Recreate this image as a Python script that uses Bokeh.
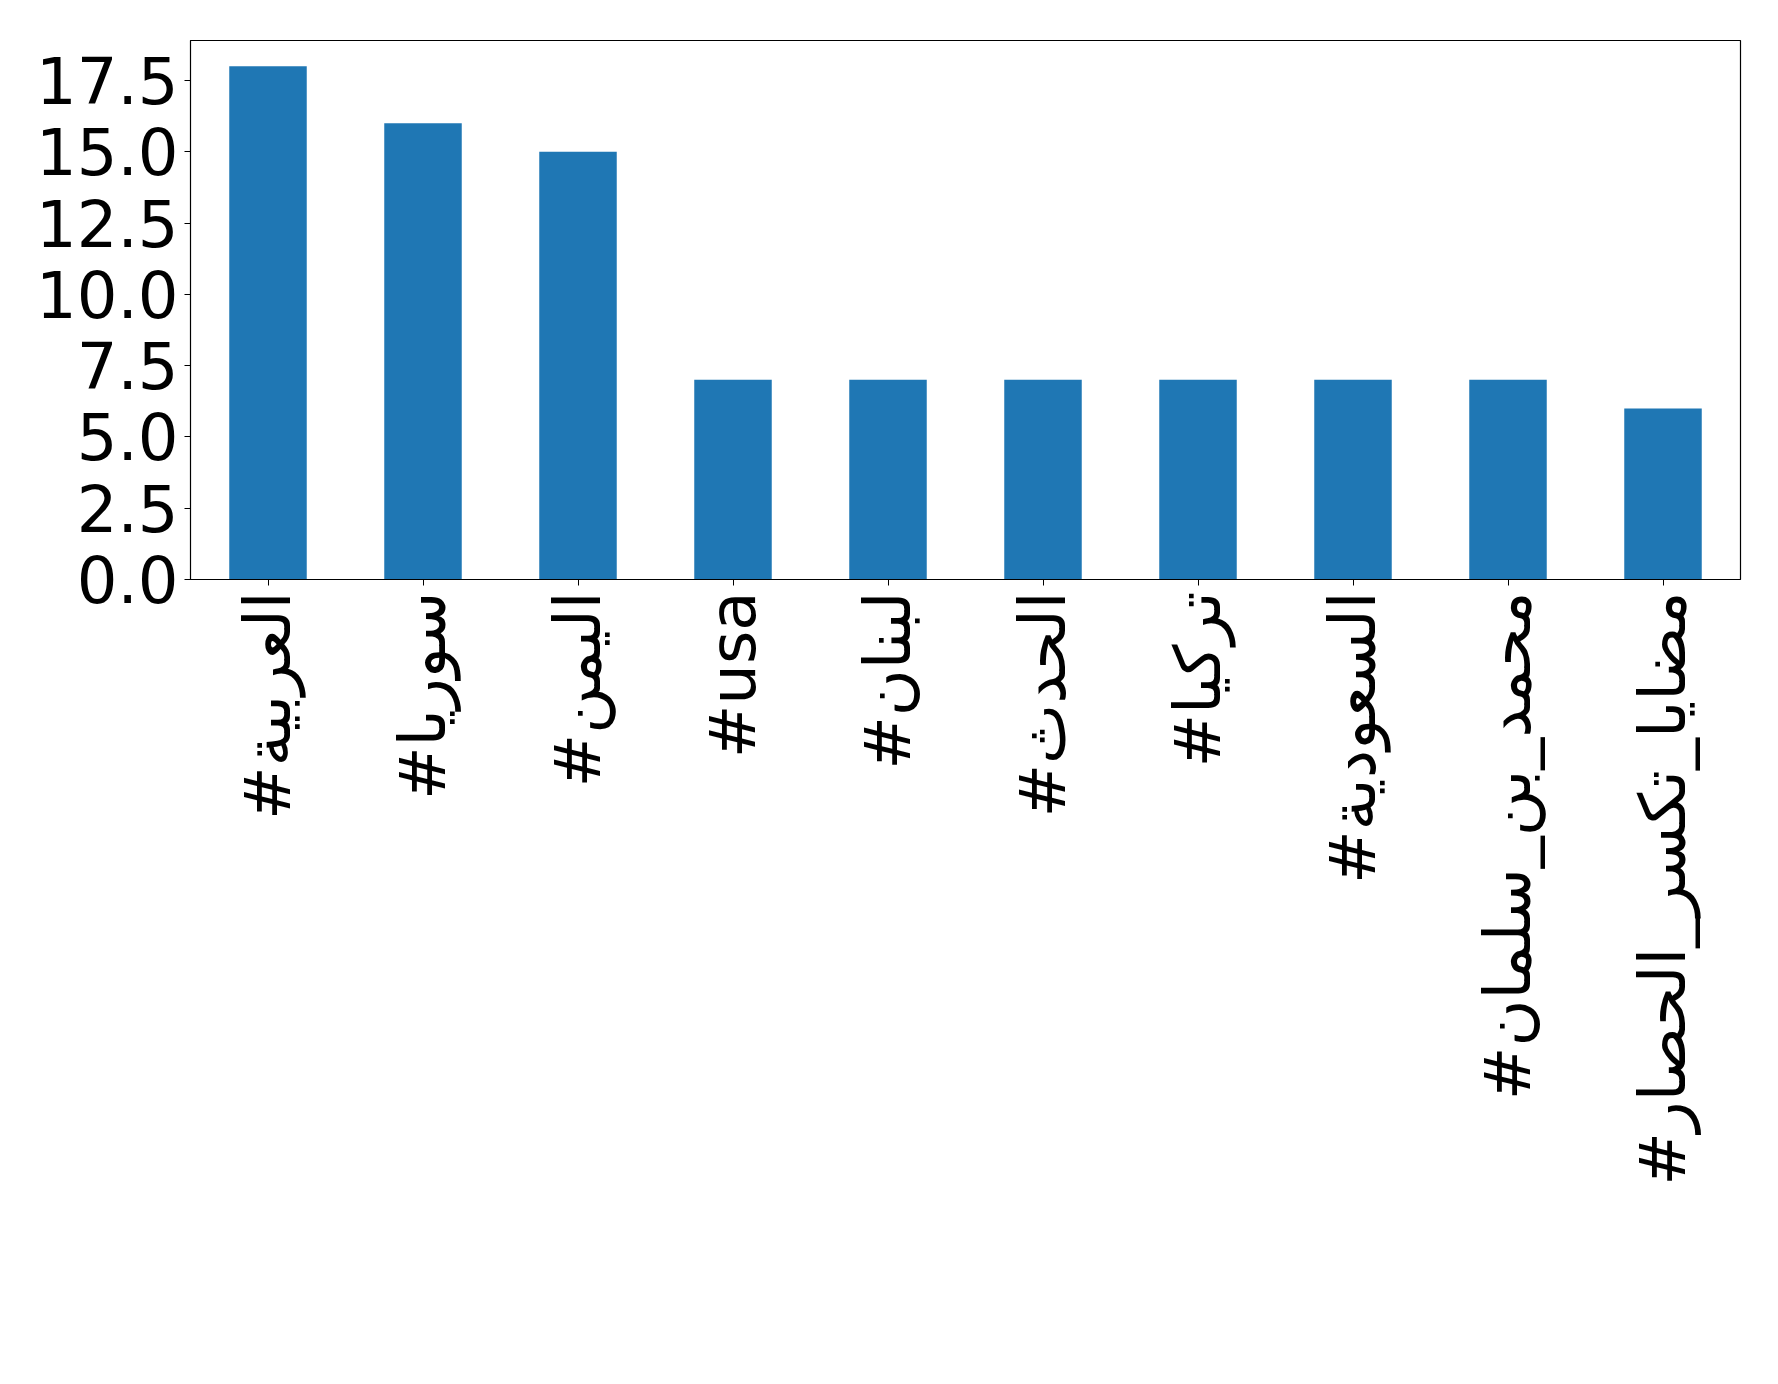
import math
from bokeh.plotting import figure
from bokeh.models import ColumnDataSource, FactorRange, Range1d, FixedTicker, NumeralTickFormatter
from bokeh.embed import file_html
from bokeh.resources import INLINE

hashtags = ["#العربية", "#سوريا", "#اليمن", "#usa", "#لبنان", "#الحدث",
            "#تركيا", "#السعودية", "#محمد_بن_سلمان", "#مضايا_تكسر_الحصار"]
counts = [18, 16, 15, 7, 7, 7, 7, 7, 7, 6]
y_ticks = [0, 2.5, 5, 7.5, 10, 12.5, 15, 17.5]

src = ColumnDataSource(dict(tag=hashtags, n=counts))

p = figure(x_range=FactorRange(*hashtags, range_padding=0), y_range=Range1d(0, 18.9),
           frame_width=1550, frame_height=539,
           min_border_left=190, min_border_top=40, min_border_right=20, min_border_bottom=10,
           output_backend="svg", toolbar_location=None)
p.vbar(x="tag", top="n", width=0.5, source=src, color="#1f77b4", line_color=None)

p.xgrid.visible = False
p.ygrid.visible = False
p.outline_line_color = "black"
p.outline_line_width = 1.2

for ax in (p.xaxis[0], p.yaxis[0]):
    ax.axis_line_color = "black"
    ax.major_tick_line_color = "black"
    ax.major_tick_out = 6
    ax.major_tick_in = 0
    ax.minor_tick_line_color = None
    ax.major_label_text_font = "DejaVu Sans"
    ax.major_label_text_font_size = "64px"
    ax.major_label_text_color = "black"
    ax.major_label_standoff = 6

p.yaxis.ticker = FixedTicker(ticks=y_ticks)
p.yaxis.formatter = NumeralTickFormatter(format="0.0")
p.xaxis.major_label_orientation = math.pi / 2

open("out.html", "w").write(file_html(p, INLINE))
